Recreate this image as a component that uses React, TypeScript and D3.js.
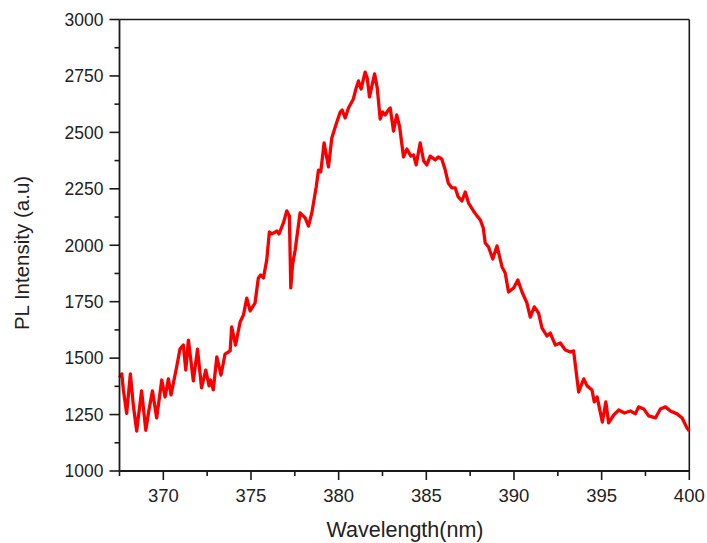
import React, { useEffect, useRef } from "react";
import * as d3 from "d3";

const wavelength = [
  367.5, 367.63, 367.72, 367.91, 368.12, 368.29, 368.48, 368.76, 369.0, 369.18,
  369.38, 369.62, 369.91, 370.1, 370.29, 370.44, 370.77, 370.95, 371.14, 371.28,
  371.43, 371.71, 371.95, 372.18, 372.42, 372.61, 372.69, 372.85, 373.05, 373.29,
  373.52, 373.81, 373.9, 374.12, 374.38, 374.57, 374.76, 374.95, 375.23, 375.42,
  375.55, 375.71, 375.9, 376.05, 376.2, 376.47, 376.6, 376.85, 377.04, 377.19,
  377.27, 377.37, 377.52, 377.8, 378.09, 378.28, 378.47, 378.72, 378.85, 378.98,
  379.17, 379.42, 379.61, 379.86, 380.09, 380.2, 380.37, 380.56, 380.84, 381.0,
  381.13, 381.28, 381.4, 381.51, 381.63, 381.76, 381.91, 382.05, 382.2, 382.37,
  382.51, 382.65, 382.83, 382.94, 383.13, 383.31, 383.48, 383.7, 383.89, 384.12,
  384.27, 384.42, 384.65, 384.85, 385.03, 385.22, 385.51, 385.68, 385.88, 386.08,
  386.25, 386.46, 386.65, 386.82, 387.03, 387.22, 387.41, 387.69, 387.89, 388.08,
  388.25, 388.36, 388.55, 388.79, 389.03, 389.32, 389.5, 389.69, 389.98, 390.22,
  390.46, 390.74, 390.93, 391.16, 391.4, 391.6, 391.88, 392.07, 392.36, 392.64,
  392.93, 393.21, 393.4, 393.69, 393.98, 394.17, 394.45, 394.58, 394.74, 395.04,
  395.24, 395.4, 395.69, 395.97, 396.3, 396.64, 396.92, 397.11, 397.4, 397.68,
  398.07, 398.35, 398.64, 398.92, 399.3, 399.59, 399.87, 400.0,
];

const intensity = [
  1415, 1430, 1360, 1255, 1430, 1290, 1177, 1355, 1180, 1270,
  1355, 1235, 1403, 1328, 1408, 1337, 1465, 1540, 1558, 1447,
  1580, 1399, 1540, 1368, 1447, 1377, 1403, 1360, 1505, 1425,
  1518, 1532, 1638, 1558, 1660, 1691, 1766, 1709, 1744, 1855,
  1868, 1855, 1935, 2059, 2050, 2063, 2050, 2099, 2152, 2130,
  1811, 1913, 1979, 2143, 2121, 2085, 2143, 2258, 2333, 2325,
  2453, 2347, 2475, 2537, 2590, 2599, 2564, 2608, 2648, 2697,
  2728, 2692, 2732, 2767, 2741, 2657, 2710, 2759, 2697, 2559,
  2590, 2577, 2599, 2608, 2506, 2577, 2524, 2391, 2426, 2395,
  2400, 2356, 2453, 2373, 2356, 2395, 2378, 2391, 2382, 2333,
  2276, 2254, 2254, 2214, 2196, 2236, 2187, 2152, 2130, 2112,
  2076, 2010, 1992, 1939, 1997, 1904, 1877, 1793, 1811, 1846,
  1793, 1744, 1682, 1727, 1700, 1633, 1598, 1611, 1558, 1567,
  1536, 1527, 1532, 1350, 1408, 1377, 1359, 1306, 1328, 1217,
  1306, 1213, 1248, 1270, 1257, 1266, 1253, 1284, 1275, 1244,
  1235, 1275, 1284, 1266, 1253, 1235, 1190, 1177,
];

const xMajorTicks = [370, 375, 380, 385, 390, 395, 400];
const xMinorTicks = [367.5, 372.5, 377.5, 382.5, 387.5, 392.5, 397.5];
const yMajorTicks = [1000, 1250, 1500, 1750, 2000, 2250, 2500, 2750, 3000];
const yMinorTicks = [1125, 1375, 1625, 1875, 2125, 2375, 2625, 2875];

const xTitle = "Wavelength(nm)";
const yTitle = "PL Intensity (a.u)";

const W = 707;
const H = 543;
const left = 119.5;
const right = 689.3;
const top = 19.5;
const bottom = 471;

export default function App() {
  const ref = useRef<SVGSVGElement | null>(null);

  useEffect(() => {
    document.body.style.margin = "0";
    const svg = d3.select(ref.current);
    svg.selectAll("*").remove();

    const x = d3.scaleLinear().domain([367.5, 400]).range([left, right]);
    const y = d3.scaleLinear().domain([1000, 3000]).range([bottom, top]);

    const font = "'Liberation Sans', Arial, sans-serif";
    const axisColor = "#1a1a1a";

    svg.append("line").attr("x1", left).attr("x2", right).attr("y1", top).attr("y2", top)
      .attr("stroke", axisColor).attr("stroke-width", 1.6);
    svg.append("line").attr("x1", right).attr("x2", right).attr("y1", top).attr("y2", bottom)
      .attr("stroke", axisColor).attr("stroke-width", 1.6);

    const data = wavelength.map((w, i) => [w, intensity[i]] as [number, number]);
    const line = d3.line<[number, number]>().x((d) => x(d[0])).y((d) => y(d[1]));
    svg.append("path").attr("d", line(data) || "").attr("fill", "none")
      .attr("stroke", "#f80000").attr("stroke-width", 3.3).attr("stroke-linejoin", "round");

    svg.append("line").attr("x1", left).attr("x2", left).attr("y1", top).attr("y2", bottom)
      .attr("stroke", axisColor).attr("stroke-width", 1.8);
    svg.append("line").attr("x1", left).attr("x2", right).attr("y1", bottom).attr("y2", bottom)
      .attr("stroke", axisColor).attr("stroke-width", 1.8);

    yMajorTicks.forEach((t) => {
      svg.append("line").attr("x1", left - 10).attr("x2", left).attr("y1", y(t)).attr("y2", y(t))
        .attr("stroke", axisColor).attr("stroke-width", 1.6);
      svg.append("text").attr("x", left - 16).attr("y", y(t)).attr("dy", "0.36em")
        .attr("text-anchor", "end").attr("font-family", font).attr("font-size", 17.5)
        .attr("fill", "#222").text(String(t));
    });
    yMinorTicks.forEach((t) => {
      svg.append("line").attr("x1", left - 5).attr("x2", left).attr("y1", y(t)).attr("y2", y(t))
        .attr("stroke", axisColor).attr("stroke-width", 1.6);
    });
    xMajorTicks.forEach((t) => {
      svg.append("line").attr("x1", x(t)).attr("x2", x(t)).attr("y1", bottom).attr("y2", bottom + 9)
        .attr("stroke", axisColor).attr("stroke-width", 1.6);
      svg.append("text").attr("x", x(t)).attr("y", 502)
        .attr("text-anchor", "middle").attr("font-family", font).attr("font-size", 18.5)
        .attr("fill", "#222").text(String(t));
    });
    xMinorTicks.forEach((t) => {
      svg.append("line").attr("x1", x(t)).attr("x2", x(t)).attr("y1", bottom).attr("y2", bottom + 5)
        .attr("stroke", axisColor).attr("stroke-width", 1.6);
    });

    svg.append("text").attr("x", 405).attr("y", 537)
      .attr("text-anchor", "middle").attr("font-family", font).attr("font-size", 21.5)
      .attr("fill", "#222").text(xTitle);
    svg.append("text")
      .attr("transform", `translate(29, 253) rotate(-90)`)
      .attr("text-anchor", "middle").attr("font-family", font).attr("font-size", 20.5)
      .attr("fill", "#222").text(yTitle);
  }, []);

  return (
    <svg ref={ref} width={W} height={H}
      style={{ position: "absolute", left: 0, top: 0, background: "#fff" }} />
  );
}
